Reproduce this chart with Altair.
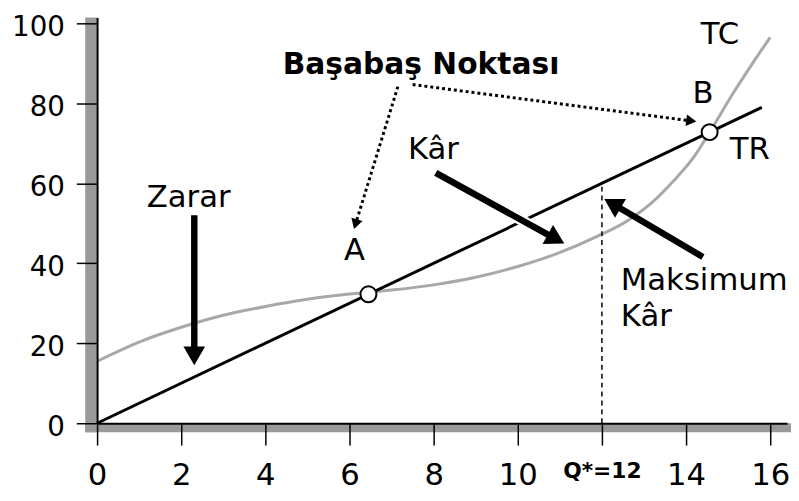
import math
import altair as alt
import pandas as pd

# ---------------- data ----------------
tick_y = [0, 20, 40, 60, 80, 100]
tick_x = [0, 2, 4, 6, 8, 10, 12, 14, 16]
q_star = 12
q_star_label = "Q*=12"

tr_q = [0, 15.8]
tr_v = [0, 79]

tc_q = [0, 1, 2, 3, 4, 5, 6, 6.5, 7, 8, 9, 10, 10.9, 11.9, 12.6, 13.2, 13.7, 14.2, 14.56, 15.1, 15.6, 16]
tc_v = [15.5, 20.3, 24, 27, 29.2, 31, 32.3, 32.8, 33.3, 34.6, 36.5, 39.2, 42.3, 46.8, 50.6, 55.3, 60.6, 66.8, 72.8, 82.2, 90.3, 96.5]

pt_q = [6.45, 14.56]
pt_v = [32.25, 72.8]

left_text = ["Zarar", "Kâr", "TC", "TR", "Maksimum", "Kâr"]
left_x = [1.18, 7.39, 14.35, 15.04, 12.45, 12.45]
left_y = [54.2, 66.1, 94.8, 66.1, 33.4, 24.3]

center_text = ["A", "B"]
center_x = [6.12, 14.4]
center_y = [40.8, 80.0]

title_text = ["Başabaş Noktası"]
title_x = [7.7]
title_y = [87.4]

solid_arrows = {  # name: (x0, y0, x1, y1)
    "zarar": (2.31, 52.0, 2.31, 15.3),
    "kar": (8.05, 62.6, 11.04, 45.3),
    "maks": (14.4, 41.6, 12.12, 55.7),
}
dotted_arrows = {
    "toA": (7.15, 84.2, 6.12, 49.0),
    "toB": (7.5, 84.7, 14.2, 75.5),
}

# ---------------- geometry helpers ----------------
X_MAX = 16.4
Y_MAX = 101.5
W, H = 697, 410
PX_X = W / X_MAX
PX_Y = H / Y_MAX


def arrow_frames(arrows, back):
    lines, heads = [], []
    for name, (x0, y0, x1, y1) in arrows.items():
        dx = (x1 - x0) * PX_X
        dy = -(y1 - y0) * PX_Y
        L = math.hypot(dx, dy)
        ux, uy = dx / L, dy / L
        ang = math.degrees(math.atan2(ux, -uy)) % 360
        cx = x1 - ux * back / PX_X
        cy = y1 + uy * back / PX_Y
        lines.append({"id": name, "o": 0, "x": x0, "y": y0})
        lines.append({"id": name, "o": 1, "x": cx, "y": cy})
        heads.append({"id": name, "x": cx, "y": cy, "ang": ang})
    return pd.DataFrame(lines), pd.DataFrame(heads)


solid_lines, solid_heads = arrow_frames(solid_arrows, 9.5)
dot_lines, dot_heads = arrow_frames(dotted_arrows, 5)

xs = alt.Scale(domain=[0, X_MAX], nice=False, zero=False)
ys = alt.Scale(domain=[0, Y_MAX], nice=False, zero=False)

X_AX = alt.Axis(
    values=tick_x, title=None, grid=False, domainColor="black", domainWidth=2,
    tickColor="black", tickWidth=1.5, tickSize=22, labelColor="black",
    labelFont="DejaVu Sans", labelPadding=16,
    labelFontSize={"condition": {"test": f"datum.value == {q_star}", "value": 22}, "value": 31},
    labelFontWeight={"condition": {"test": f"datum.value == {q_star}", "value": "bold"}, "value": "normal"},
    labelExpr=f"datum.value == {q_star} ? '{q_star_label}' : datum.label",
    labelFlush=False, labelOverlap=False, zindex=1,
)
Y_AX = alt.Axis(
    values=tick_y, title=None, grid=False, domainColor="black", domainWidth=2,
    tickColor="black", tickWidth=1.5, tickSize=21, labelColor="black",
    labelFont="DejaVu Sans", labelFontSize=28, labelPadding=12, labelOffset=4,
    labelFlush=False, labelOverlap=False, zindex=1,
)


def ex(f):
    return alt.X(f, type="quantitative", scale=xs, axis=X_AX)


def ey(f):
    return alt.Y(f, type="quantitative", scale=ys, axis=Y_AX)


band_df = pd.DataFrame({"x": [0], "x2": [0], "y": [0], "y2": [Y_MAX]})
band_y = alt.Chart(band_df).mark_rect(color="#9a9a9a", xOffset=-12, x2Offset=0, yOffset=9).encode(
    x=ex("x"), x2="x2", y=ey("y"), y2="y2")
bandx_df = pd.DataFrame({"x": [0], "x2": [X_MAX], "y": [0], "y2": [0]})
band_x = alt.Chart(bandx_df).mark_rect(color="#9a9a9a", xOffset=-12, x2Offset=4, yOffset=9).encode(
    x=ex("x"), x2="x2", y=ey("y"), y2="y2")

tc = alt.Chart(pd.DataFrame({"q": tc_q, "v": tc_v})).mark_line(
    color="#a8a8a8", strokeWidth=3, interpolate="monotone").encode(x=ex("q"), y=ey("v"))
tr = alt.Chart(pd.DataFrame({"q": tr_q, "v": tr_v})).mark_line(
    color="black", strokeWidth=3).encode(x=ex("q"), y=ey("v"))

dash = alt.Chart(pd.DataFrame({"q": [q_star, q_star], "v": [0, tr_v[1] / tr_q[1] * q_star]})).mark_line(
    color="black", strokeWidth=1.5, strokeDash=[5, 4]).encode(x=ex("q"), y=ey("v"))

halo = alt.Chart(solid_lines[solid_lines.id == "kar"]).mark_line(
    color="white", strokeWidth=11).encode(x=ex("x"), y=ey("y"), order="o:O")

sol = alt.Chart(solid_lines).mark_line(color="black", strokeWidth=6.5).encode(
    x=ex("x"), y=ey("y"), detail="id:N", order="o:O")
sol_h = alt.Chart(solid_heads).mark_point(
    shape="triangle", filled=True, color="black", opacity=1, size=480).encode(
    x=ex("x"), y=ey("y"), angle=alt.Angle("ang:Q", scale=None))

dot = alt.Chart(dot_lines).mark_line(color="black", strokeWidth=3, strokeDash=[3, 3]).encode(
    x=ex("x"), y=ey("y"), detail="id:N", order="o:O")
dot_h = alt.Chart(dot_heads).mark_point(
    shape="triangle", filled=True, color="black", opacity=1, size=140).encode(
    x=ex("x"), y=ey("y"), angle=alt.Angle("ang:Q", scale=None))

pts = alt.Chart(pd.DataFrame({"q": pt_q, "v": pt_v})).mark_point(
    shape="circle", filled=True, fill="white", stroke="black", strokeWidth=2,
    opacity=1, size=260).encode(x=ex("q"), y=ey("v"))

t_left = alt.Chart(pd.DataFrame({"x": left_x, "y": left_y, "t": left_text})).mark_text(
    font="DejaVu Sans", fontSize=31, align="left", baseline="alphabetic", color="black").encode(
    x=ex("x"), y=ey("y"), text="t:N")
t_center = alt.Chart(pd.DataFrame({"x": center_x, "y": center_y, "t": center_text})).mark_text(
    font="DejaVu Sans", fontSize=31, align="center", baseline="alphabetic", color="black").encode(
    x=ex("x"), y=ey("y"), text="t:N")
t_title = alt.Chart(pd.DataFrame({"x": title_x, "y": title_y, "t": title_text})).mark_text(
    font="DejaVu Sans", fontSize=30, fontWeight="bold", align="center", baseline="alphabetic",
    color="black").encode(x=ex("x"), y=ey("y"), text="t:N")

chart = alt.layer(
    band_y, band_x, tc, tr, dash, halo, sol, sol_h, dot, dot_h, pts, t_left, t_center, t_title
).properties(
    width=W, height=H,
    autosize=alt.AutoSizeParams(type="none"),
    padding={"left": 90, "top": 7, "right": 4, "bottom": 70},
).configure_view(stroke=None)

chart.save("out.html", embed_options={"renderer": "svg", "actions": False})
